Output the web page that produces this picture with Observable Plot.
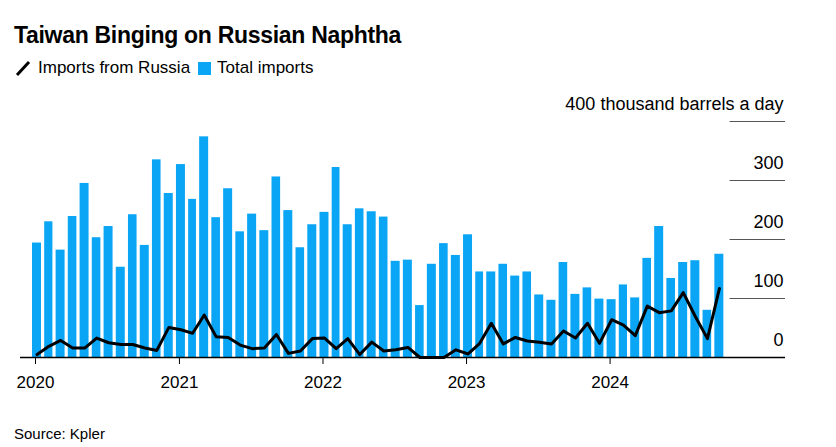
<!DOCTYPE html>
<html><head><meta charset="utf-8">
<script src="https://cdn.jsdelivr.net/npm/d3@7"></script>
<script src="https://cdn.jsdelivr.net/npm/@observablehq/plot@0.6"></script>
<style>
body{margin:0;background:#fff;font-family:"Liberation Sans",Arial,sans-serif;color:#000}
#t{position:absolute;left:14px;top:22px;font-size:23px;font-weight:bold;letter-spacing:-0.3px}
#lg{position:absolute;left:14px;top:58px;font-size:17px;display:flex;align-items:center}
#src{position:absolute;left:14px;top:425px;font-size:15px}
#c{position:absolute;left:0;top:88px}
</style></head><body>
<div id="t">Taiwan Binging on Russian Naphtha</div>
<div id="lg"><svg width="18" height="18"><line x1="3" y1="16" x2="15" y2="3" stroke="#000" stroke-width="3"/></svg><span style="margin:0 8px 0 6px">Imports from Russia</span><span style="display:inline-block;width:13px;height:13px;background:#0aa5f5;margin-right:6px"></span><span>Total imports</span></div>
<div id="c"></div>
<div id="src">Source: Kpler</div>
<script>
const startMonth = "2020-01";
const total = [194,230,182,239,295,203,222,153,242,190,335,278,327,268,374,237,286,213,243,215,306,249,186,225,246,322,225,252,247,238,163,165,88,158,193,173,208,145,145,158,138,145,106,97,161,107,118,99,98,123,101,168,222,134,161,164,80,175];
const russia = [5,19,29,16,16,33,25,22,22,16,12,51,47,41,72,35,34,21,15,16,39,7,11,32,33,15,32,5,26,11,13,17,0,0,0,13,6,24,58,23,34,28,26,23,45,33,58,24,64,55,37,87,76,79,110,69,32,117];
const yTicks = [0,100,200,300,400];
const xTickYears = [2020,2021,2022,2023,2024];
const xDomain = [new Date(Date.UTC(2020,0,1)), new Date(Date.UTC(2025,2,22))];
const gridStart = new Date(Date.UTC(2024,10,1));

const d0 = new Date(startMonth + "-01T00:00:00Z");
const rows = total.map((v,i)=>{
  const a = d3.utcMonth.offset(d0,i), b = d3.utcMonth.offset(d0,i+1);
  return {a, b, mid: new Date((+a + +b)/2), total: v, russia: russia[i]};
});
const chart = Plot.plot({
  width: 836, height: 315,
  marginLeft: 35, marginRight: 51, marginTop: 33, marginBottom: 46,
  style: {fontFamily: '"Liberation Sans",Arial,sans-serif', fontSize: "17px", color: "#000"},
  x: {type: "utc", domain: xDomain, axis: null},
  y: {domain: [0,400], axis: null},
  marks: [
    Plot.rectY(rows, {x1: "a", x2: "b", y: "total", fill: "#0aa5f5", insetRight: 3.2, dx: -3}),
    Plot.ruleY(yTicks.filter(d=>d>0), {y: d=>d, x1: gridStart, x2: xDomain[1], stroke: "#555", strokeWidth: 1.2}),
    Plot.ruleY([0], {x1: xDomain[0], x2: xDomain[1], stroke: "#000", strokeWidth: 1.3, insetLeft: -15}),
    Plot.text(yTicks, {y: d=>d, x: xDomain[1], text: d=> d===400 ? "400 thousand barrels a day" : String(d), textAnchor: "end", lineAnchor: "bottom", dy: -12, dx: -2, fontSize: 18}),
    Plot.line(rows, {x: "mid", y: "russia", stroke: "#000", strokeWidth: 3, dx: -4.5}),
    Plot.axisX(xTickYears.map(d=>new Date(Date.UTC(d,0,1))), {tickSize: 7, tickFormat: d=>String(d.getUTCFullYear()), fontSize: 17, tickPadding: 11})
  ]
});
document.getElementById("c").append(chart);
</script>
</body></html>
